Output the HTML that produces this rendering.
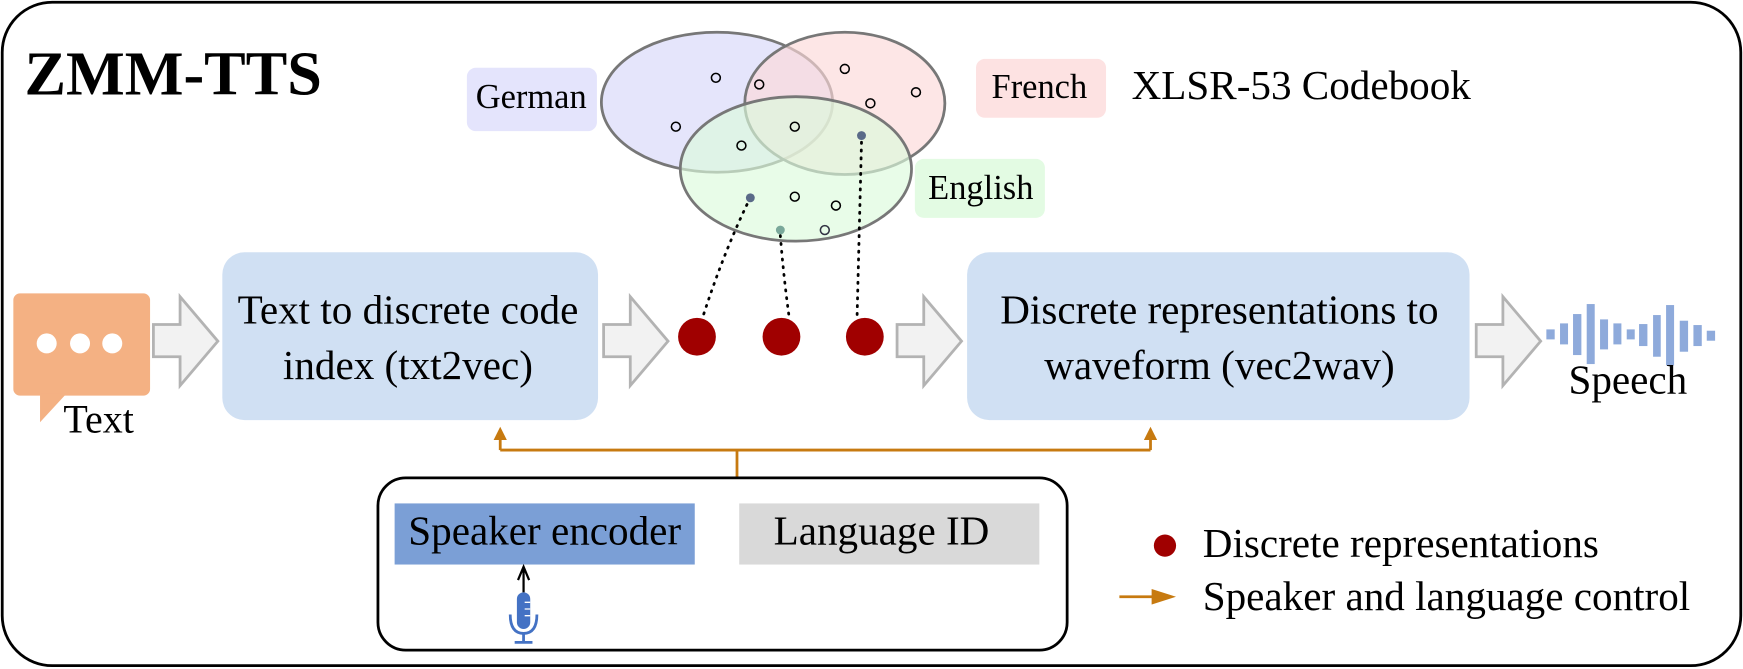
<!DOCTYPE html>
<html><head><meta charset="utf-8"><style>
html,body{margin:0;padding:0;background:#fff;}
svg{display:block;}
text{font-family:"Liberation Serif",serif;fill:#000;}
</style></head><body>
<svg width="1743" height="669" viewBox="0 0 1568 602" preserveAspectRatio="none" xmlns="http://www.w3.org/2000/svg">
<defs>
<marker id="oa" markerWidth="12" markerHeight="12" refX="6" refY="6" orient="auto" markerUnits="userSpaceOnUse">
<path d="M0,0 L12,6 L0,12 Z" fill="#c77a10"/></marker>
<marker id="ob" markerWidth="22" markerHeight="14" refX="4" refY="7" orient="auto" markerUnits="userSpaceOnUse">
<path d="M0,0 L22,7 L0,14 Z" fill="#c77a10"/></marker>
</defs>
<rect x="2" y="2" width="1564" height="597" rx="45" fill="#fff" stroke="#000" stroke-width="2.5"/>
<text x="22" y="85" font-size="56" font-weight="bold">ZMM-TTS</text>

<!-- labels -->
<rect x="420" y="61" width="117" height="57" rx="8" fill="#e4e4fc"/>
<text x="428" y="97" font-size="31">German</text>
<rect x="878" y="53" width="117" height="53" rx="8" fill="#fde2e2"/>
<text x="892" y="88" font-size="31">French</text>
<text x="1018" y="89" font-size="37">XLSR-53 Codebook</text>
<rect x="823" y="143" width="117" height="53" rx="8" fill="#e3fbe3"/>
<text x="835" y="179" font-size="31">English</text>

<!-- ellipses -->
<ellipse cx="645" cy="92" rx="104" ry="63" fill="#dcdcfa" fill-opacity="0.75" stroke="#777" stroke-width="2.5"/>
<ellipse cx="760" cy="93" rx="90" ry="64" fill="#fcd8d8" fill-opacity="0.65" stroke="#777" stroke-width="2.5"/>
<ellipse cx="716" cy="152" rx="104" ry="65" fill="#dcfadc" fill-opacity="0.65" stroke="#777" stroke-width="2.5"/>

<g fill="none" stroke="#000" stroke-width="1.4">
<circle cx="644" cy="70" r="4"/><circle cx="683" cy="76" r="4"/><circle cx="608" cy="114" r="4"/>
<circle cx="667" cy="131" r="4"/><circle cx="715" cy="114" r="4"/><circle cx="760" cy="62" r="4"/>
<circle cx="783" cy="93" r="4"/><circle cx="824" cy="83" r="4"/><circle cx="715" cy="177" r="4"/>
<circle cx="752" cy="185" r="4"/><circle cx="742" cy="207" r="4" stroke="#334"/>
</g>
<circle cx="675" cy="178" r="4" fill="#5a6a88"/>
<circle cx="702" cy="207" r="4" fill="#7aa89a"/>
<circle cx="775" cy="122" r="4" fill="#5a6a88"/>

<g stroke="#000" stroke-width="2.5" stroke-dasharray="1,6" stroke-linecap="round" fill="none">
<path d="M672,184 Q650,230 632,286"/>
<path d="M702,212 Q705,250 710,286"/>
<path d="M775,128 L771,286"/>
</g>
<circle cx="627" cy="303" r="17" fill="#a00000"/>
<circle cx="703" cy="303" r="17" fill="#a00000"/>
<circle cx="778" cy="303" r="17" fill="#a00000"/>

<!-- blocks -->
<rect x="200" y="227" width="338" height="151" rx="20" fill="#d0e0f3"/>
<text x="367" y="291" font-size="37" text-anchor="middle">Text to discrete code</text>
<text x="367" y="341" font-size="37" text-anchor="middle">index (txt2vec)</text>
<rect x="870" y="227" width="452" height="151" rx="20" fill="#d0e0f3"/>
<text x="1097" y="291" font-size="37" text-anchor="middle">Discrete representations to</text>
<text x="1097" y="341" font-size="37" text-anchor="middle">waveform (vec2wav)</text>

<!-- block arrows -->
<g fill="#f2f2f2" stroke="#b3b3b3" stroke-width="2.5">
<path d="M138,292 L162,292 L162,267 L196,307 L162,347 L162,321 L138,321 Z"/>
<path d="M543,292 L567,292 L567,267 L601,307 L567,347 L567,321 L543,321 Z"/>
<path d="M807,292 L831,292 L831,267 L865,307 L831,347 L831,321 L807,321 Z"/>
<path d="M1328,292 L1352,292 L1352,267 L1386,307 L1352,347 L1352,321 L1328,321 Z"/>
</g>

<!-- text icon -->
<rect x="12" y="264" width="123" height="92" rx="6" fill="#f4b183"/>
<path d="M36,354 L36,380 L60,354 Z" fill="#f4b183"/>
<circle cx="42" cy="309" r="9" fill="#fff"/><circle cx="72" cy="309" r="9" fill="#fff"/><circle cx="101" cy="309" r="9" fill="#fff"/>
<text x="57" y="389" font-size="36">Text</text>

<!-- waveform -->
<g transform="translate(1377,270) scale(0.3)" fill="#8eaadb">
<rect x="47" y="88" width="25" height="30"/><rect x="88" y="70" width="24" height="63"/>
<rect x="127" y="42" width="25" height="123"/><rect x="168" y="12" width="24" height="180"/>
<rect x="208" y="58" width="24" height="90"/><rect x="248" y="70" width="24" height="63"/>
<rect x="288" y="88" width="24" height="30"/><rect x="325" y="72" width="25" height="66"/>
<rect x="367" y="45" width="23" height="125"/><rect x="406" y="15" width="24" height="181"/>
<rect x="447" y="62" width="25" height="93"/><rect x="488" y="75" width="25" height="63"/>
<rect x="528" y="92" width="25" height="30"/>
</g>
<text x="1411" y="354" font-size="37">Speech</text>

<!-- control lines -->
<g stroke="#c77a10" stroke-width="2.5" fill="none">
<path d="M663,430 L663,405"/>
<path d="M450,405 L1035,405"/>
<path d="M450,405 L450,390" marker-end="url(#oa)"/>
<path d="M1035,405 L1035,390" marker-end="url(#oa)"/>
</g>

<rect x="340" y="430" width="620" height="155" rx="25" fill="none" stroke="#000" stroke-width="2.5"/>
<rect x="355" y="453" width="270" height="55" fill="#7b9fd6"/>
<text x="490" y="490" font-size="37" text-anchor="middle">Speaker encoder</text>
<rect x="665" y="453" width="270" height="55" fill="#d9d9d9"/>
<text x="793" y="490" font-size="37" text-anchor="middle">Language ID</text>

<!-- arrow to speaker encoder -->
<path d="M471,533 L471,511 M466,522 L471,510 L476,522" stroke="#000" stroke-width="2" fill="none"/>
<!-- mic -->
<g fill="#4472c4" stroke="#4472c4">
<rect x="465" y="533" width="12" height="33" rx="6" stroke="none"/>
<path d="M459,553 Q459,570 471,570 Q483,570 483,553" fill="none" stroke-width="2.5"/>
<path d="M471,570 L471,578 M463,578 L479,578" stroke-width="2.5"/>
</g>
<g stroke="#fff" stroke-width="1.2"><path d="M472,542 L477,542 M472,548 L477,548 M472,554 L477,554"/></g>

<!-- legend -->
<circle cx="1048" cy="491" r="10" fill="#a00000"/>
<text x="1082" y="501" font-size="37">Discrete representations</text>
<path d="M1007,537 L1040,537" stroke="#c77a10" stroke-width="2.5" marker-end="url(#ob)"/>
<text x="1082" y="549" font-size="37">Speaker and language control</text>
</svg>
</body></html>
